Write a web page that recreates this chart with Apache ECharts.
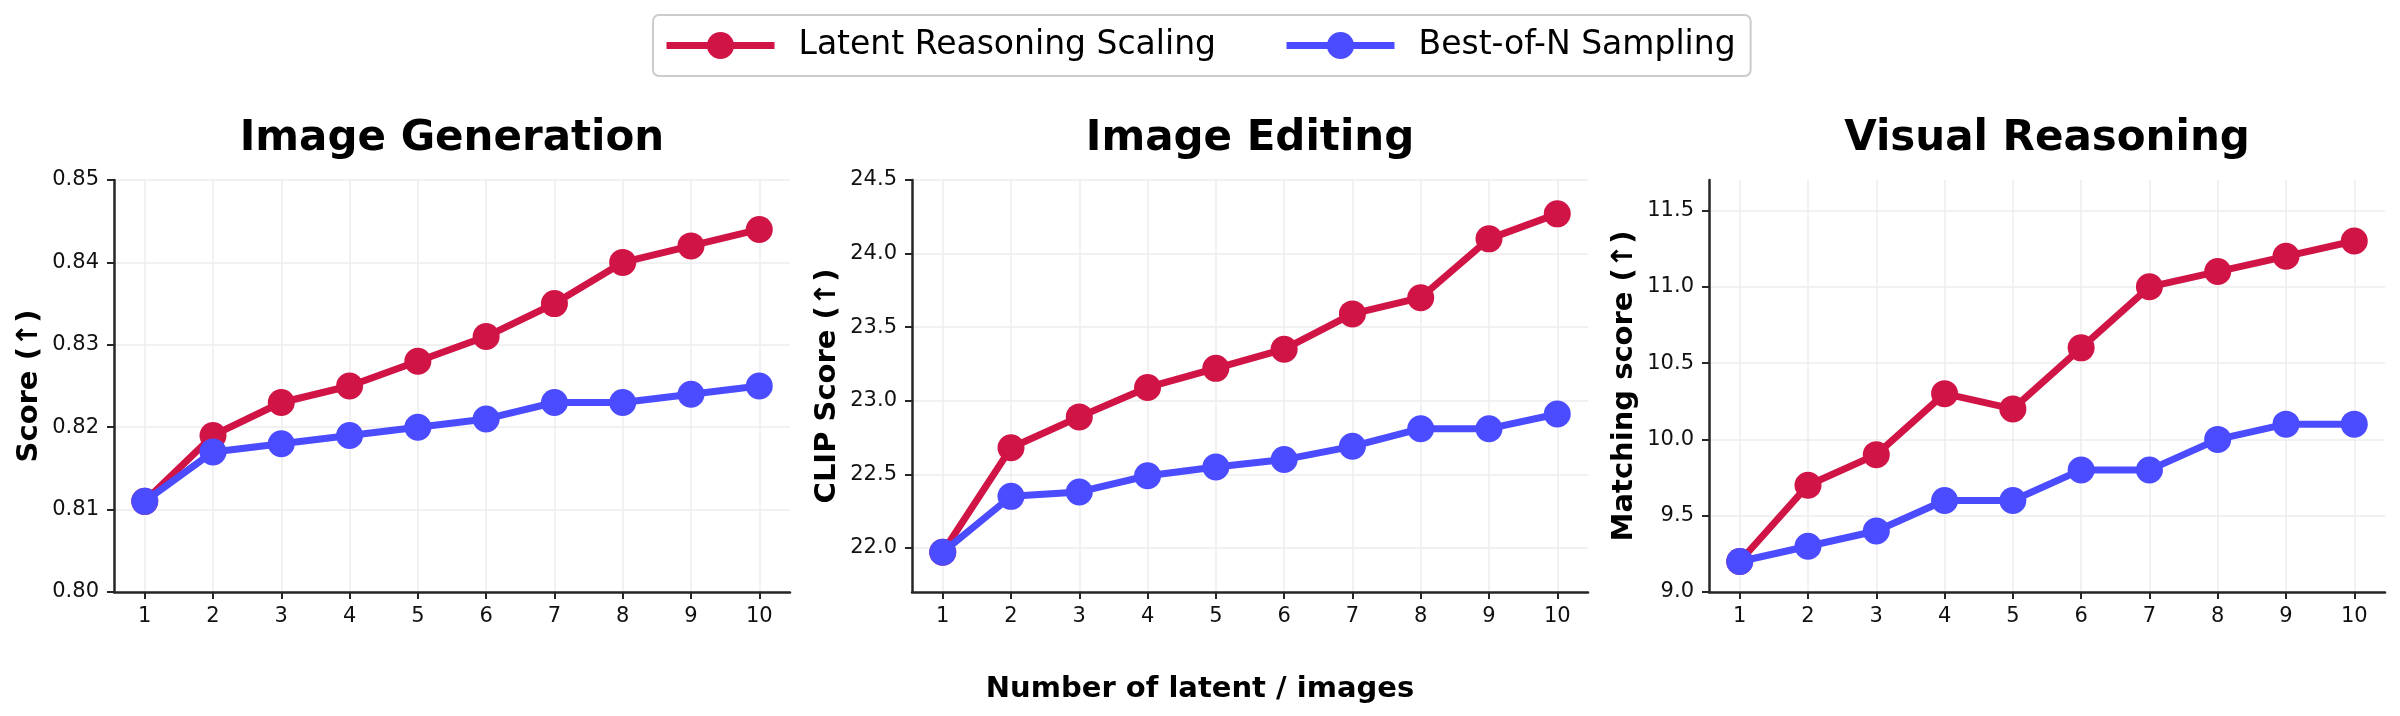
<!DOCTYPE html>
<html>
<head>
<meta charset="utf-8">
<script src="https://cdn.jsdelivr.net/npm/echarts@6/dist/echarts.min.js"></script>
<style>
  html, body { margin: 0; padding: 0; background: #fff; }
  #main { width: 2400px; height: 716px; }
</style>
</head>
<body>
<div id="main"></div>
<script>
const chart = echarts.init(document.querySelector("#main"));

// 數據
const steps = [1, 2, 3, 4, 5, 6, 7, 8, 9, 10];
const seriesNames = ["Latent Reasoning Scaling", "Best-of-N Sampling"];
const panelTitles = ["Image Generation", "Image Editing", "Visual Reasoning"];
const yNames = ["Score (↑)", "CLIP Score (↑)", "Matching score (↑)"];

const genLatent = [0.811, 0.819, 0.823, 0.825, 0.828, 0.831, 0.835, 0.840, 0.842, 0.844];
const genBestN = [0.811, 0.817, 0.818, 0.819, 0.820, 0.821, 0.823, 0.823, 0.824, 0.825];
const editLatent = [21.97, 22.68, 22.89, 23.09, 23.22, 23.35, 23.59, 23.70, 24.10, 24.27];
const editBestN = [21.97, 22.35, 22.38, 22.49, 22.55, 22.60, 22.69, 22.81, 22.81, 22.91];
const reasonLatent = [9.2, 9.7, 9.9, 10.3, 10.2, 10.6, 11.0, 11.1, 11.2, 11.3];
const reasonBestN = [9.2, 9.3, 9.4, 9.6, 9.6, 9.8, 9.8, 10.0, 10.1, 10.1];

const genTicks = [0.80, 0.81, 0.82, 0.83, 0.84, 0.85];
const editTicks = [22.0, 22.5, 23.0, 23.5, 24.0, 24.5];
const reasonTicks = [9.0, 9.5, 10.0, 10.5, 11.0, 11.5];

const yRanges = [[0.80, 0.85], [21.7, 24.5], [9.0, 11.7]];
const yDecimals = [2, 1, 1];

const panels = [
    { latent: genLatent, bestN: genBestN, ticks: genTicks },
    { latent: editLatent, bestN: editBestN, ticks: editTicks },
    { latent: reasonLatent, bestN: reasonBestN, ticks: reasonTicks },
];

const RED = "#d01446";
const BLUE = "#4b4bff";
const FONT = "DejaVu Sans";

const gridLefts = [114, 912, 1709];
const gridWidth = 676;

const grids = [];
const xAxes = [];
const yAxes = [];
const series = [];
const titles = [];

panels.forEach((p, i) => {
    grids.push({
        left: gridLefts[i],
        top: 180,
        width: gridWidth,
        height: 412,
        outerBoundsMode: "none",
    });
    xAxes.push({
        type: "value",
        gridIndex: i,
        min: 0.55,
        max: 10.45,
        axisLine: { lineStyle: { color: "#262626", width: 2.5 } },
        axisTick: { customValues: steps, length: 7, lineStyle: { color: "#262626", width: 2 } },
        axisLabel: {
            customValues: steps,
            margin: 14,
            fontFamily: FONT,
            fontSize: 21,
            color: "#111",
        },
        splitLine: { show: true, lineStyle: { color: "#ececec", width: 1.5 } },
    });
    yAxes.push({
        type: "value",
        gridIndex: i,
        min: yRanges[i][0],
        max: yRanges[i][1],
        name: yNames[i],
        nameLocation: "middle",
        nameRotate: 90,
        nameGap: 70,
        nameTextStyle: { fontFamily: FONT, fontWeight: "bold", fontSize: 29, color: "#000" },
        axisLine: { show: true, lineStyle: { color: "#262626", width: 2.5 } },
        axisTick: { show: true, customValues: p.ticks, length: 7, lineStyle: { color: "#262626", width: 2 } },
        axisLabel: {
            customValues: p.ticks,
            margin: 15,
            fontFamily: FONT,
            fontSize: 21,
            color: "#111",
            formatter: (v) => Number(v).toFixed(yDecimals[i]),
        },
        splitLine: { show: true, lineStyle: { color: "#ececec", width: 1.5 } },
    });
    [[p.latent, RED, 0], [p.bestN, BLUE, 1]].forEach(([vals, color, k]) => {
        series.push({
            name: seriesNames[k],
            type: "line",
            xAxisIndex: i,
            yAxisIndex: i,
            data: steps.map((s, j) => [s, vals[j]]),
            symbol: "circle",
            symbolSize: 27,
            showSymbol: true,
            lineStyle: { color: color, width: 7 },
            itemStyle: { color: color },
            z: 2 + k,
            animation: false,
        });
    });
    titles.push({
        text: panelTitles[i],
        left: gridLefts[i] + gridWidth / 2,
        top: 118,
        padding: 0,
        textAlign: "center",
        textStyle: { fontFamily: FONT, fontWeight: "bold", fontSize: 42, color: "#000" },
    });
});

titles.push({
    text: "Number of latent / images",
    left: 1200,
    top: 675,
    padding: 0,
    textAlign: "center",
    textStyle: { fontFamily: FONT, fontWeight: "bold", fontSize: 29, color: "#000" },
});

const option = {
    backgroundColor: "#fff",
    animation: false,
    title: titles,
    legend: {
        data: seriesNames,
        left: 653,
        top: 15,
        orient: "horizontal",
        itemWidth: 108,
        itemHeight: 34,
        itemGap: 67,
        padding: [14, 15, 14, 10],
        borderColor: "#cccccc",
        borderWidth: 2,
        borderRadius: 6,
        lineStyle: { width: 7 },
        textStyle: {
            fontFamily: FONT,
            fontSize: 33,
            color: "#000",
            padding: [0, 0, 0, 19],
        },
    },
    grid: grids,
    xAxis: xAxes,
    yAxis: yAxes,
    series: series,
};

chart.setOption(option);
</script>
</body>
</html>
